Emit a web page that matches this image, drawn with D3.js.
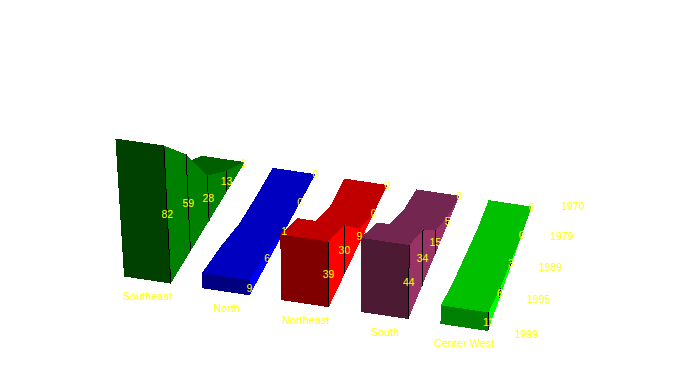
<!DOCTYPE html>
<html>
<head>
<meta charset="utf-8">
<script src="https://cdnjs.cloudflare.com/ajax/libs/d3/7.8.5/d3.min.js"></script>
<style>
  html, body { margin: 0; padding: 0; background: #fff; }
  text { font-family: "Liberation Sans", sans-serif; font-size: 10.5px; fill: #ffff00; }
</style>
</head>
<body>
<svg id="chart" width="679" height="371"></svg>
<script>
// front to back
const years = ['1999', '1995', '1989', '1979', '1970'];
const regions = ['Southeast', 'North', 'Northeast', 'South', 'Center West'];

const southeast = [82, 59, 28, 13, 1];
const north = [9, 6, 1, 0, 0];
const northeast = [39, 30, 9, 0, 0];
const south = [44, 34, 15, 5, 0];
const centerWest = [11, 6, 3, 0, 0];
const seriesValues = [southeast, north, northeast, south, centerWest];

// one colour per region: top, front, side
const topColors = ['#006000', '#0000c0', '#c00000', '#732650', '#00c000'];
const frontColors = ['#004000', '#000080', '#800000', '#4d1a33', '#008000'];
const sideColors = ['#008000', '#0000ff', '#ff0000', '#993366', '#00ff00'];

const svg = d3.select('#chart');

// Scales on the front edge of the floor
const xFront = d3.scaleBand().domain(regions).range([124, 488]).paddingInner(0.404);
const xWarp = d3.scalePow().exponent(1.015).domain([124, 488]).range([124, 488]);
const yFront = d3.scaleLinear().domain([124, 488]).range([276.5, 331]);
const depth = d3.scalePoint().domain(years).range([0, 4]);
const height = d3.scaleLinear().domain([0, 82]).range([0, 138]);

// Perspective: depth lines run to one vanishing point, uprights spread slightly
const vanish = [959, -1008];
const perspective = 0.0256;
const uprightX = 355;
const uprightDist = 3700;

function project(x, year, value) {
    const s = 1 / (1 + perspective * depth(year));
    const wx = xWarp(x);
    const bx = vanish[0] + (wx - vanish[0]) * s;
    const by = vanish[1] + (yFront(wx) - vanish[1]) * s;
    const h = height(value) * s;
    return [bx + (bx - uprightX) / uprightDist * h, by - h];
}

const line = d3.line();
const plot = svg.append('g').attr('shape-rendering', 'crispEdges');

regions.forEach((region, i) => {
    const values = seriesValues[i];
    const x0 = xFront(region);
    const x1 = x0 + xFront.bandwidth();
    const g = plot.append('g');
    const backToFront = d3.range(years.length - 2, -1, -1);

    // Top strips
    g.selectAll('.top')
        .data(backToFront)
        .join('path')
        .attr('class', 'top')
        .attr('fill', topColors[i])
        .attr('d', t => line([
            project(x0, years[t], values[t]),
            project(x1, years[t], values[t]),
            project(x1, years[t + 1], values[t + 1]),
            project(x0, years[t + 1], values[t + 1])
        ]) + 'Z');

    // Right side
    g.selectAll('.side')
        .data(backToFront)
        .join('path')
        .attr('class', 'side')
        .attr('fill', sideColors[i])
        .attr('d', t => line([
            project(x1, years[t], 0),
            project(x1, years[t], values[t]),
            project(x1, years[t + 1], values[t + 1]),
            project(x1, years[t + 1], 0)
        ]) + 'Z');

    // Front face
    g.append('path')
        .attr('fill', frontColors[i])
        .attr('d', line([
            project(x0, years[0], 0),
            project(x0, years[0], values[0]),
            project(x1, years[0], values[0]),
            project(x1, years[0], 0)
        ]) + 'Z');

    // Year dividers on the side
    g.selectAll('.divider')
        .data(d3.range(years.length - 1).filter(t => values[t] > 0))
        .join('path')
        .attr('class', 'divider')
        .attr('stroke', '#000')
        .attr('fill', 'none')
        .attr('d', t => line([project(x1, years[t], 0), project(x1, years[t], values[t])]));
});

// Value labels at the middle of each divider
const labels = svg.append('g').attr('text-anchor', 'middle');
regions.forEach((region, i) => {
    const x1 = xFront(region) + xFront.bandwidth();
    labels.selectAll(null)
        .data(years.map((y, t) => ({year: y, value: seriesValues[i][t]})))
        .join('text')
        .attr('x', d => project(x1, d.year, d.value / 2)[0])
        .attr('y', d => project(x1, d.year, d.value / 2)[1] + 4)
        .text(d => d.value);
    // Region name under the front face
    const mid = xFront(region) + xFront.bandwidth() / 2;
    labels.append('text')
        .attr('x', mid)
        .attr('y', yFront(mid) + 20)
        .style('letter-spacing', '0.2px')
        .text(region);
});

// Year labels off the right-hand edge
const yearX = xFront.range()[1] + 38;
labels.selectAll('.year')
    .data(years)
    .join('text')
    .attr('class', 'year')
    .attr('x', y => project(yearX, y, 0)[0] + depth(y) * 1.6)
    .attr('y', y => project(yearX, y, 0)[1] + 1 - depth(y) * 0.7)
    .text(y => y);
</script>
</body>
</html>
